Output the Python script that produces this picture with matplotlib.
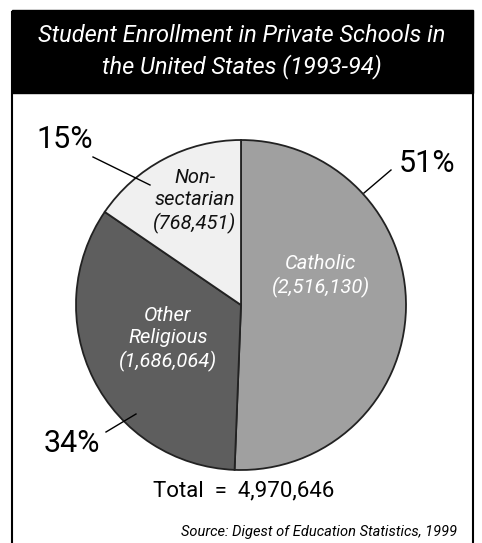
import matplotlib.pyplot as plt
from matplotlib.patches import Rectangle

# data
categories = ['Catholic', 'Other\nReligious', 'Non-\nsectarian']
enrollment = [2516130, 1686064, 768451]
percent_labels = ['51%', '34%', '15%']
colors = ['#a0a0a0', '#5e5e5e', '#f0f0f0']
text_colors = ['white', 'white', '#111111']
total = 4970646

W, H = 482, 543
fig = plt.figure(figsize=(W / 100, H / 100), dpi=100)
ax = fig.add_axes([0, 0, 1, 1])

font = 'Roboto'

# pie
cx, cy, r = 241, H - 305, 165
wedges, _ = ax.pie(enrollment, colors=colors, startangle=90, counterclock=False,
                   center=(cx, cy), radius=r, frame=True,
                   wedgeprops=dict(edgecolor='#222222', linewidth=1.3))
ax.set_xlim(0, W)
ax.set_ylim(0, H)
ax.set_aspect('auto')
ax.axis('off')

# frame + title bar
ax.add_patch(Rectangle((12, -2), 461, H - 10, fill=False, ec='black', lw=1.5))
ax.add_patch(Rectangle((12, H - 93), 461, 83, fc='black', ec='black'))
ax.text(242, H - 35, 'Student Enrollment in Private Schools in', color='white',
        fontsize=17, style='italic', family=font, ha='center', va='center')
ax.text(242, H - 67, 'the United States (1993-94)', color='white',
        fontsize=17, style='italic', family=font, ha='center', va='center')

# labels inside slices
inside_pos = [(321, H - 276), (168, H - 339), (195, H - 201)]
for cat, val, (x, y), tc in zip(categories, enrollment, inside_pos, text_colors):
    ax.text(x, y, cat + '\n(' + f'{val:,}' + ')', color=tc, fontsize=14.5,
            style='italic', family=font, ha='center', va='center',
            linespacing=1.2)

# percentages with leader lines
pct_pos = [(427, H - 164), (72, H - 443), (65, H - 140)]
leaders = [((364, H - 193), (391, H - 170)),
           ((136, H - 414), (106, H - 432)),
           ((150, H - 185), (93, H - 157))]
for lab, (x, y), (p0, p1) in zip(percent_labels, pct_pos, leaders):
    ax.text(x, y, lab, fontsize=22, family=font, ha='center', va='center')
    ax.plot([p0[0], p1[0]], [p0[1], p1[1]], color='black', lw=1)

ax.text(244, H - 491, f'Total  =  {total:,}', fontsize=16, family=font,
        ha='center', va='center')
ax.text(319, H - 532, 'Source: Digest of Education Statistics, 1999', fontsize=10.5,
        style='italic', family=font, ha='center', va='center')

fig.savefig('out.png', dpi=100)
